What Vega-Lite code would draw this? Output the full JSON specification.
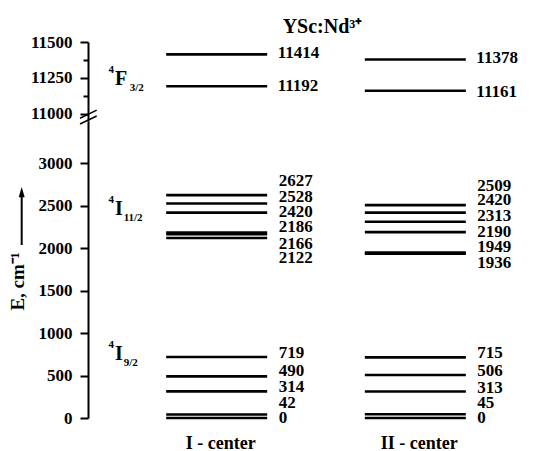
{
  "$schema": "https://vega.github.io/schema/vega-lite/v6.json",
  "autosize": {"type": "none"},
  "width": 445,
  "height": 376,
  "padding": {"left": 88, "top": 42, "right": 0, "bottom": 33},
  "config": {
    "font": "Liberation Serif",
    "view": {"stroke": null},
    "axis": {
      "domainWidth": 2, "domainColor": "black", "tickWidth": 2, "tickColor": "black",
      "labelColor": "black", "labelFontSize": 17, "labelFontWeight": "bold", "labelPadding": 8,
      "grid": false, "titleColor": "black", "labelFont": "Liberation Serif", "titleFont": "Liberation Serif"
    }
  },
  "title": {"text": "YSc:Nd³⁺", "fontSize": 20, "fontWeight": "bold", "anchor": "middle", "dx": 12, "dy": 26, "offset": 6, "baseline": "alphabetic", "color": "black", "font": "Liberation Serif"},
  "datasets": {
    "top": [
      {"center": "I - center", "E": 11414, "label_at": 11421},
      {"center": "I - center", "E": 11192, "label_at": 11196},
      {"center": "II - center", "E": 11378, "label_at": 11387},
      {"center": "II - center", "E": 11161, "label_at": 11154}
    ],
    "bottom": [
      {"center": "I - center", "E": 2627, "label_at": 2796},
      {"center": "I - center", "E": 2528, "label_at": 2608},
      {"center": "I - center", "E": 2420, "label_at": 2431},
      {"center": "I - center", "E": 2186, "label_at": 2247},
      {"center": "I - center", "E": 2166, "label_at": 2047},
      {"center": "I - center", "E": 2122, "label_at": 1882},
      {"center": "I - center", "E": 719, "label_at": 769},
      {"center": "I - center", "E": 490, "label_at": 557},
      {"center": "I - center", "E": 314, "label_at": 369},
      {"center": "I - center", "E": 42, "label_at": 173},
      {"center": "I - center", "E": 0, "label_at": -3},
      {"center": "II - center", "E": 2509, "label_at": 2734},
      {"center": "II - center", "E": 2420, "label_at": 2569},
      {"center": "II - center", "E": 2313, "label_at": 2380},
      {"center": "II - center", "E": 2190, "label_at": 2195},
      {"center": "II - center", "E": 1949, "label_at": 2012},
      {"center": "II - center", "E": 1936, "label_at": 1830},
      {"center": "II - center", "E": 715, "label_at": 769},
      {"center": "II - center", "E": 506, "label_at": 557},
      {"center": "II - center", "E": 313, "label_at": 350},
      {"center": "II - center", "E": 45, "label_at": 173},
      {"center": "II - center", "E": 0, "label_at": -3}
    ],
    "termsTop": [
      {"center": "I - center", "at": 11201, "letter": "F", "sup": "4", "sub": "3/2"}
    ],
    "termsBottom": [
      {"center": "I - center", "at": 2392, "letter": "I", "sup": "4", "sub": "11/2"},
      {"center": "I - center", "at": 683, "letter": "I", "sup": "4", "sub": "9/2"}
    ]
  },
  "layer": [
    {
      "data": {"name": "top"},
      "layer": [
        {
          "mark": {"type": "tick", "orient": "horizontal", "size": 101, "thickness": 2.6, "color": "black", "opacity": 1},
          "encoding": {
            "x": {"field": "center", "type": "nominal", "scale": {"type": "band", "domain": ["I - center", "II - center"], "range": [78, 378], "paddingInner": 0.49, "paddingOuter": 0}, "axis": null},
            "y": {"field": "E", "type": "quantitative", "scale": {"domain": [10950, 11500], "range": [79, 0], "nice": false, "zero": false},
              "axis": {"orient": "left", "title": null, "format": "d", "values": [11000, 11125, 11250, 11375, 11500],
                "labelExpr": "datum.value % 250 === 0 ? datum.label : ''",
                "tickSize": {"condition": {"test": "datum.value % 250 === 0", "value": 8}, "value": 5}}}
          }
        },
        {
          "mark": {"type": "text", "align": "left", "baseline": "middle", "dx": 61, "fontSize": 17, "fontWeight": "bold", "color": "black"},
          "encoding": {
            "x": {"field": "center", "type": "nominal"},
            "y": {"field": "label_at", "type": "quantitative"},
            "text": {"field": "E", "type": "quantitative", "format": "d"}
          }
        },
        {
          "data": {"name": "termsTop"},
          "mark": {"type": "text", "align": "left", "baseline": "alphabetic", "dx": -101.6, "fontSize": 20, "fontWeight": "bold", "color": "black"},
          "encoding": {"x": {"field": "center", "type": "nominal"}, "y": {"field": "at", "type": "quantitative"}, "text": {"field": "letter"}}
        },
        {
          "data": {"name": "termsTop"},
          "mark": {"type": "text", "align": "right", "baseline": "alphabetic", "dx": -102.6, "dy": -12, "fontSize": 11, "fontWeight": "bold", "color": "black"},
          "encoding": {"x": {"field": "center", "type": "nominal"}, "y": {"field": "at", "type": "quantitative"}, "text": {"field": "sup"}}
        },
        {
          "data": {"name": "termsTop"},
          "mark": {"type": "text", "align": "left", "baseline": "alphabetic", "dx": -87, "dy": 6, "fontSize": 11, "fontWeight": "bold", "color": "black"},
          "encoding": {"x": {"field": "center", "type": "nominal"}, "y": {"field": "at", "type": "quantitative"}, "text": {"field": "sub"}}
        }
      ]
    },
    {
      "data": {"name": "bottom"},
      "layer": [
        {
          "mark": {"type": "tick", "orient": "horizontal", "size": 101, "thickness": 2.6, "color": "black", "opacity": 1},
          "encoding": {
            "x": {"field": "center", "type": "nominal", "scale": {"type": "band", "domain": ["I - center", "II - center"], "range": [78, 378], "paddingInner": 0.49, "paddingOuter": 0},
              "axis": {"orient": "bottom", "title": null, "domain": false, "ticks": false, "labelFontSize": 18, "labelFontWeight": "bold", "labelPadding": 16, "labelOffset": 4, "labelAngle": 0}},
            "y": {"field": "E", "type": "quantitative", "scale": {"domain": [0, 3500], "range": [376, 79], "nice": false, "zero": false},
              "axis": {"orient": "left", "format": "d", "values": [0, 250, 500, 750, 1000, 1250, 1500, 1750, 2000, 2250, 2500, 2750, 3000, 3250],
                "labelExpr": "datum.value % 500 === 0 ? datum.label : ''",
                "tickSize": {"condition": {"test": "datum.value % 500 === 0", "value": 8}, "value": 5},
                "title": "E, cm⁻¹", "titleX": -64.7, "titleY": 239, "titleAngle": 270, "titleAlign": "center", "titleBaseline": "alphabetic", "titleFontSize": 19, "titleFontWeight": "bold"}}
          }
        },
        {
          "mark": {"type": "text", "align": "left", "baseline": "middle", "dx": 62, "fontSize": 17, "fontWeight": "bold", "color": "black"},
          "encoding": {
            "x": {"field": "center", "type": "nominal"},
            "y": {"field": "label_at", "type": "quantitative"},
            "text": {"field": "E", "type": "quantitative", "format": "d"}
          }
        },
        {
          "data": {"name": "termsBottom"},
          "mark": {"type": "text", "align": "left", "baseline": "alphabetic", "dx": -101.6, "fontSize": 20, "fontWeight": "bold", "color": "black"},
          "encoding": {"x": {"field": "center", "type": "nominal"}, "y": {"field": "at", "type": "quantitative"}, "text": {"field": "letter"}}
        },
        {
          "data": {"name": "termsBottom"},
          "mark": {"type": "text", "align": "right", "baseline": "alphabetic", "dx": -102.6, "dy": -12, "fontSize": 11, "fontWeight": "bold", "color": "black"},
          "encoding": {"x": {"field": "center", "type": "nominal"}, "y": {"field": "at", "type": "quantitative"}, "text": {"field": "sup"}}
        },
        {
          "data": {"name": "termsBottom"},
          "mark": {"type": "text", "align": "left", "baseline": "alphabetic", "dx": -93, "dy": 6, "fontSize": 11, "fontWeight": "bold", "color": "black"},
          "encoding": {"x": {"field": "center", "type": "nominal"}, "y": {"field": "at", "type": "quantitative"}, "text": {"field": "sub"}}
        }
      ]
    },
    {
      "data": {"values": [{}]},
      "layer": [
        {
          "mark": {"type": "rule", "strokeWidth": 2, "color": "black"},
          "encoding": {
            "x": {"datum": -14.9, "type": "quantitative", "scale": {"domain": [0, 100], "nice": false, "zero": false}, "axis": null},
            "y": {"datum": 2039, "type": "quantitative", "scale": {"domain": [0, 3500], "range": [376, 79], "nice": false, "zero": false}, "axis": null},
            "y2": {"datum": 2651}
          }
        },
        {
          "mark": {"type": "point", "shape": "M0,-1L0.5,0.7L-0.5,0.7Z", "size": 144, "filled": true, "color": "black", "opacity": 1},
          "encoding": {
            "x": {"datum": -14.9, "type": "quantitative"},
            "y": {"datum": 2651, "type": "quantitative"}
          }
        },
        {
          "mark": {"type": "rule", "strokeWidth": 1.5, "color": "black"},
          "encoding": {
            "x": {"datum": -1.8, "type": "quantitative"}, "x2": {"datum": 1.96},
            "y": {"datum": 3532, "type": "quantitative"}, "y2": {"datum": 3629}
          }
        },
        {
          "mark": {"type": "rule", "strokeWidth": 1.5, "color": "black"},
          "encoding": {
            "x": {"datum": -1.8, "type": "quantitative"}, "x2": {"datum": 1.96},
            "y": {"datum": 3465, "type": "quantitative"}, "y2": {"datum": 3559}
          }
        }
      ]
    }
  ],
  "resolve": {"scale": {"x": "independent", "y": "independent"}}
}
